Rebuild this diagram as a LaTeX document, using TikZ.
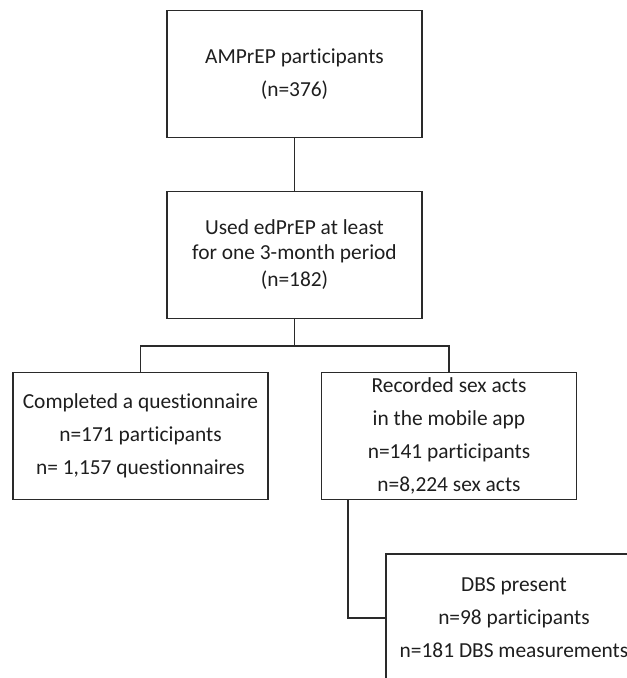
\documentclass[tikz,border=0pt]{standalone}
\usepackage{fontspec}
\setmainfont{Carlito}[Ligatures={NoCommon}]
\begin{document}
\begin{tikzpicture}[x=1pt,y=-1pt,
  box/.style={draw=linegray,line width=1.7pt,minimum width=255pt,minimum height=127pt,
    align=center,inner sep=0pt,text=txtgray,font=\fontsize{21.4}{33}\selectfont},
  conn/.style={draw=linegray,line width=1.7pt}]
\definecolor{linegray}{HTML}{2A2A2A}
\definecolor{txtgray}{HTML}{1E1E1E}
\useasboundingbox (0,0) rectangle (627,678);
\begin{scope}
\clip (0,0) rectangle (627,678);
\node[box] (a) at (294.5,74) {AMPrEP participants\\(n=376)};
\node[box,font=\fontsize{21.4}{24.5}\selectfont] (b) at (294.5,255) {Used edPrEP at least\\for one 3-month period\\[3pt](n=182)};
\node[box] (c) at (140.5,436) {Completed a questionnaire\\n=171 participants\\n= 1,157 questionnaires};
\node[box] (d) at (449,436) {Recorded sex acts\\in the mobile app\\n=141 participants\\n=8,224 sex acts};
\node[box,minimum width=256pt,minimum height=128pt] (e) at (514,618) {DBS present\\n=98 participants\\n=181 DBS measurements};
\coordinate (split) at (294.5,346);
\coordinate (drop) at (348,500);
\draw[conn] (a.south) -- (b.north);
\draw[conn] (b.south) -- (split);
\draw[conn] (split) -| (c.north);
\draw[conn] (split) -| (d.north);
\draw[conn] (drop) |- (e.west);
\end{scope}
\end{tikzpicture}
\end{document}
